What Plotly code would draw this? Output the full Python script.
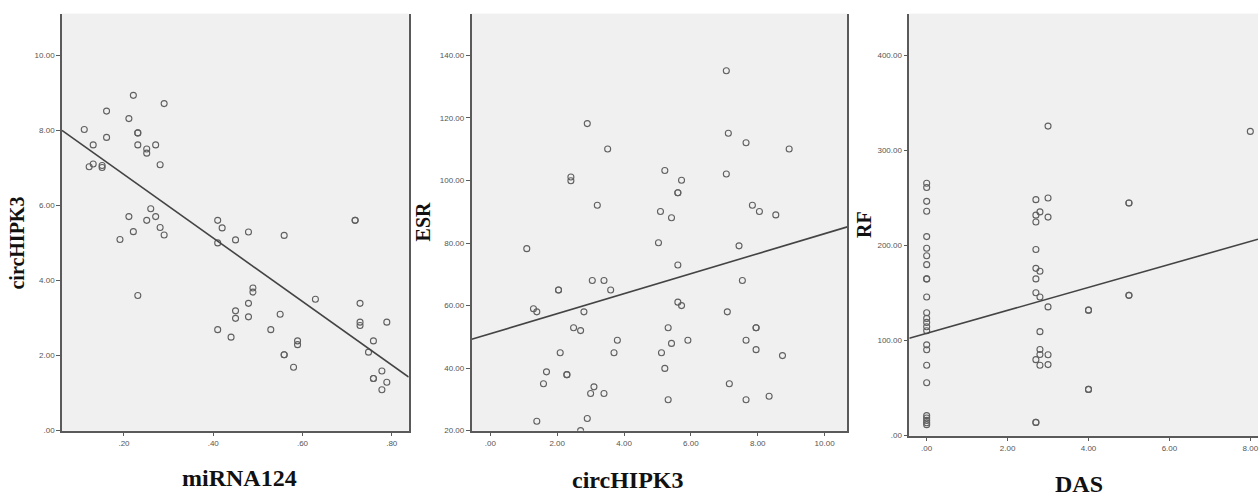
import plotly.graph_objects as go

# ---------------- data ----------------
# Panel 1: miRNA124 (x) vs circHIPK3 (y)
p1_mirna124 = [0.111, 0.131, 0.122, 0.131, 0.151, 0.151, 0.161, 0.161, 0.191, 0.211,
               0.221, 0.231, 0.231, 0.231, 0.211, 0.221, 0.231, 0.251, 0.251, 0.251,
               0.260, 0.271, 0.271, 0.281, 0.281, 0.290, 0.290, 0.410, 0.420, 0.410,
               0.410, 0.440, 0.450, 0.450, 0.450, 0.479, 0.479, 0.479, 0.489, 0.489,
               0.529, 0.550, 0.559, 0.559, 0.559, 0.580, 0.589, 0.589, 0.629, 0.718,
               0.718, 0.729, 0.729, 0.729, 0.748, 0.759, 0.759, 0.759, 0.778, 0.778,
               0.789, 0.789]
p1_circhipk3 = [8.02, 7.61, 7.03, 7.10, 7.06, 7.01, 8.51, 7.81, 5.09, 8.31,
                8.93, 7.93, 7.93, 7.61, 5.70, 5.30, 3.60, 7.50, 7.39, 5.60,
                5.91, 7.61, 5.70, 7.08, 5.41, 8.71, 5.21, 5.60, 5.40, 5.00,
                2.69, 2.49, 5.08, 3.19, 2.99, 5.29, 3.39, 3.03, 3.80, 3.69,
                2.69, 3.10, 5.20, 2.02, 2.02, 1.69, 2.39, 2.29, 3.50, 5.60,
                5.60, 3.39, 2.89, 2.80, 2.09, 2.39, 1.39, 1.39, 1.59, 1.09,
                2.89, 1.29]
p1_fit = (8.51, -8.45)  # intercept, slope

# Panel 2: circHIPK3 (x) vs ESR (y)
p2_circhipk3 = [1.09, 1.29, 1.39, 1.39, 1.59, 1.68, 2.04, 2.04, 2.09, 2.29,
                2.29, 2.41, 2.41, 2.49, 2.70, 2.70, 2.80, 2.90, 2.90, 3.00,
                3.10, 3.05, 3.20, 3.40, 3.40, 3.51, 3.60, 3.70, 3.80, 5.03,
                5.09, 5.12, 5.22, 5.22, 5.32, 5.32, 5.42, 5.42, 5.61, 5.61,
                5.72, 5.61, 5.61, 5.72, 5.91, 7.06, 7.12, 7.06, 7.09, 7.15,
                7.44, 7.54, 7.65, 7.65, 7.65, 7.84, 7.95, 7.95, 7.95, 8.05,
                8.34, 8.54, 8.74, 8.94]
p2_esr = [78.2, 59.0, 58.0, 23.0, 35.0, 38.8, 65.0, 65.0, 44.9, 37.9,
          37.9, 101.1, 99.9, 52.9, 52.0, 20.0, 58.0, 118.2, 23.9, 31.9,
          34.0, 68.0, 92.1, 68.0, 31.9, 110.1, 65.0, 44.9, 48.9, 80.1,
          90.1, 44.9, 103.2, 39.9, 52.9, 29.9, 88.1, 47.9, 96.1, 96.1,
          100.1, 73.0, 61.1, 60.0, 48.9, 135.1, 115.1, 102.1, 58.0, 35.0,
          79.1, 68.0, 112.1, 48.9, 29.9, 92.1, 52.9, 52.9, 45.9, 90.1,
          31.0, 89.0, 44.0, 110.1]
p2_fit = (51.0, 3.20)

# Panel 3: DAS (x) vs RF (y)
p3_das = ([0.0] * 25 + [2.7] * 10 + [2.8] * 7 + [3.0] * 6 + [4.0] * 4 + [5.0] * 4 + [8.0])
p3_rf = [265.6, 261.1, 246.5, 236.1, 209.4, 197.2, 189.2, 179.9, 164.9, 164.9,
         145.8, 129.2, 123.3, 119.1, 114.6, 110.4, 95.5, 90.3, 74.0, 55.6,
         21.0, 18.5, 16.0, 13.5, 11.5,
         248.3, 232.0, 224.7, 195.8, 176.0, 164.9, 150.3, 79.9, 13.9, 13.9,
         235.4, 172.9, 145.8, 109.4, 90.6, 85.4, 74.0,
         325.7, 250.0, 229.9, 135.4, 85.1, 74.7,
         132.0, 132.0, 48.6, 48.6,
         244.8, 244.8, 147.6, 147.6,
         320.1]
p3_fit = (107.6, 12.09)

# tick values / labels
p1_xticks = [0.2, 0.4, 0.6, 0.8]
p1_xlabels = [".20", ".40", ".60", ".80"]
p1_yticks = [0, 2, 4, 6, 8, 10]
p1_ylabels = [".00", "2.00", "4.00", "6.00", "8.00", "10.00"]
p2_xticks = [0, 2, 4, 6, 8, 10]
p2_xlabels = [".00", "2.00", "4.00", "6.00", "8.00", "10.00"]
p2_yticks = [20, 40, 60, 80, 100, 120, 140]
p2_ylabels = ["20.00", "40.00", "60.00", "80.00", "100.00", "120.00", "140.00"]
p3_xticks = [0, 2, 4, 6, 8]
p3_xlabels = [".00", "2.00", "4.00", "6.00", "8.00"]
p3_yticks = [0, 100, 200, 300, 400]
p3_ylabels = [".00", "100.00", "200.00", "300.00", "400.00"]

x_titles = ["miRNA124", "circHIPK3", "DAS"]
y_titles = ["circHIPK3", "ESR", "RF"]

# ---------------- layout geometry ----------------
W, H = 1259, 499
panels = [
    dict(x=p1_mirna124, y=p1_circhipk3, fit=p1_fit, xr=[0.061, 0.838], yr=[0, 11.1],
         px=(62, 409), py=(14, 435), xt=(p1_xticks, p1_xlabels), yt=(p1_yticks, p1_ylabels),
         xtitle_pos=(240, 483), ytitle_pos=(17, 245), mirror=True),
    dict(x=p2_circhipk3, y=p2_esr, fit=p2_fit, xr=[-0.56, 10.68], yr=[20, 153.3],
         px=(472, 848), py=(14, 435), xt=(p2_xticks, p2_xlabels), yt=(p2_yticks, p2_ylabels),
         xtitle_pos=(628, 485), ytitle_pos=(423, 224), mirror=True),
    dict(x=p3_das, y=p3_rf, fit=p3_fit, xr=[-0.43, 8.19], yr=[0, 443.8],
         px=(910, 1259), py=(14, 440), xt=(p3_xticks, p3_xlabels), yt=(p3_yticks, p3_ylabels),
         xtitle_pos=(1080, 489), ytitle_pos=(864, 227), mirror=False),
]

fig = go.Figure()
axis_color = "#5a5a5a"
tick_font = dict(family="Liberation Sans", size=8, color="#555555")

for i, p in enumerate(panels):
    n = "" if i == 0 else str(i + 1)
    xa, ya = "x" + n, "y" + n
    fig.add_trace(go.Scatter(
        x=p["x"], y=p["y"], mode="markers", xaxis=xa, yaxis=ya,
        marker=dict(symbol="circle-open", size=6, color="#606060", line=dict(width=1.1)),
        showlegend=False, hoverinfo="skip"))
    b0, b1 = p["fit"]
    lx = p["xr"]
    fig.add_trace(go.Scatter(
        x=lx, y=[b0 + b1 * v for v in lx], mode="lines", xaxis=xa, yaxis=ya,
        line=dict(color="#444444", width=1.6), showlegend=False, hoverinfo="skip"))

    xdom = [p["px"][0] / W, min(p["px"][1] / W, 1.0)]
    ydom = [1 - p["py"][1] / H, 1 - p["py"][0] / H]
    fig.update_layout(**{
        "xaxis" + n: dict(domain=xdom, range=p["xr"], anchor=ya, showgrid=False, zeroline=False,
                          showline=True, linecolor=axis_color, linewidth=1.5,
                          tickmode="array", tickvals=p["xt"][0], ticktext=p["xt"][1],
                          ticks="outside", ticklen=4, tickcolor=axis_color, tickfont=tick_font,
                          ticklabeloverflow="allow"),
        "yaxis" + n: dict(domain=ydom, range=p["yr"], anchor=xa, showgrid=False, zeroline=False,
                          showline=True, linecolor=axis_color, linewidth=1.5, mirror=p["mirror"],
                          tickmode="array", tickvals=p["yt"][0], ticktext=p["yt"][1],
                          ticks="outside", ticklen=4, tickcolor=axis_color, tickfont=tick_font,
                          ticklabeloverflow="allow"),
    })
    fig.add_shape(type="rect", xref=xa + " domain", yref=ya + " domain", x0=0, x1=1, y0=0, y1=1,
                  fillcolor="#f0f0f0", line=dict(width=0), layer="below")
    fig.add_annotation(text=x_titles[i], xref="paper", yref="paper",
                       x=p["xtitle_pos"][0] / W, y=1 - p["xtitle_pos"][1] / H,
                       xanchor="center", yanchor="middle", showarrow=False,
                       font=dict(family="Liberation Serif", size=24, color="#111111", weight="bold"))
    fig.add_annotation(text=y_titles[i], xref="paper", yref="paper",
                       x=p["ytitle_pos"][0] / W, y=1 - p["ytitle_pos"][1] / H,
                       xanchor="center", yanchor="middle", showarrow=False, textangle=-90,
                       font=dict(family="Liberation Serif", size=20, color="#111111", weight="bold"))

fig.update_layout(width=W, height=H, autosize=False,
                  margin=dict(l=0, r=0, t=0, b=0),
                  paper_bgcolor="white", plot_bgcolor="#f0f0f0")

fig.write_html("out.html", config={"displayModeBar": False},
               post_script="document.body.style.margin='0';")
